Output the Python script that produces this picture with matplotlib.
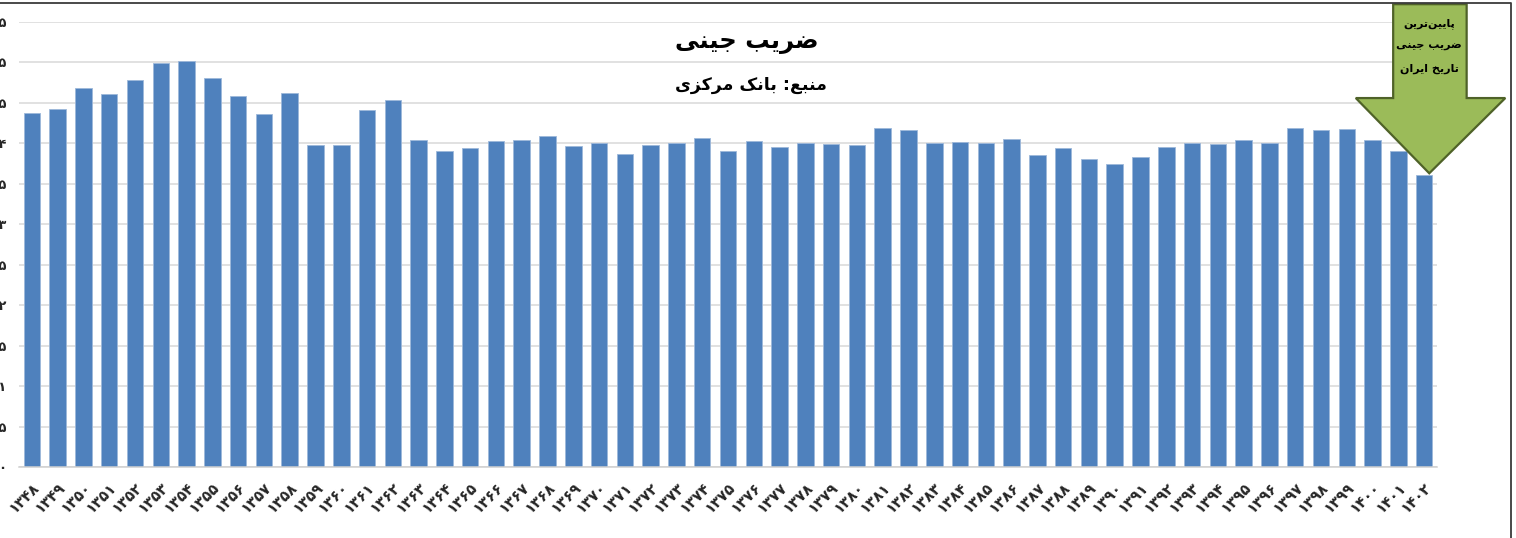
import matplotlib
matplotlib.use("Agg")
import matplotlib.pyplot as plt
from matplotlib.patches import Polygon
from matplotlib.lines import Line2D

# ---- data ----
years = list(range(1348, 1403))
gini = [0.437, 0.443, 0.468, 0.461, 0.478, 0.499, 0.502, 0.481, 0.459, 0.436,
        0.462, 0.398, 0.398, 0.441, 0.454, 0.404, 0.391, 0.394, 0.403, 0.404,
        0.409, 0.397, 0.400, 0.387, 0.398, 0.400, 0.407, 0.391, 0.403, 0.396,
        0.401, 0.399, 0.398, 0.419, 0.416, 0.400, 0.402, 0.400, 0.405, 0.386,
        0.394, 0.381, 0.375, 0.383, 0.395, 0.400, 0.399, 0.404, 0.400, 0.419,
        0.416, 0.418, 0.404, 0.391, 0.361]
yticks = [0, 0.05, 0.1, 0.15, 0.2, 0.25, 0.3, 0.35, 0.4, 0.45, 0.5, 0.55]

title = "ضریب جینی"
subtitle = "منبع: بانک مرکزی"
note = ["پایین‌ترین", "ضریب جینی", "تاریخ ایران"]

bar_color = "#4F81BD"
arrow_fill = "#9BBB59"
arrow_edge = "#4F6228"

# ---- tiny arabic/persian shaper (matplotlib has no shaping) ----
# isolated, final, initial, medial
FORMS = {
    'ا': ('\uFE8D', '\uFE8E', None, None),
    'ب': ('\uFE8F', '\uFE90', '\uFE91', '\uFE92'),
    'پ': ('\uFB56', '\uFB57', '\uFB58', '\uFB59'),
    'ت': ('\uFE95', '\uFE96', '\uFE97', '\uFE98'),
    'ج': ('\uFE9D', '\uFE9E', '\uFE9F', '\uFEA0'),
    'خ': ('\uFEA5', '\uFEA6', '\uFEA7', '\uFEA8'),
    'ر': ('\uFEAD', '\uFEAE', None, None),
    'ز': ('\uFEAF', '\uFEB0', None, None),
    'ض': ('\uFEBD', '\uFEBE', '\uFEBF', '\uFEC0'),
    'ع': ('\uFEC9', '\uFECA', '\uFECB', '\uFECC'),
    'ک': ('\uFB8E', '\uFB8F', '\uFB90', '\uFB91'),
    'م': ('\uFEE1', '\uFEE2', '\uFEE3', '\uFEE4'),
    'ن': ('\uFEE5', '\uFEE6', '\uFEE7', '\uFEE8'),
    'ی': ('\uFBFC', '\uFBFD', '\uFBFE', '\uFBFF'),
}


def shape(text):
    out = []
    for i, c in enumerate(text):
        if c not in FORMS:
            if c != '\u200c':
                out.append(c)
            continue
        prev = text[i - 1] if i > 0 else None
        nxt = text[i + 1] if i + 1 < len(text) else None
        join_prev = prev in FORMS and FORMS[prev][2] is not None
        join_next = nxt in FORMS and FORMS[c][2] is not None
        iso, fin, ini, med = FORMS[c]
        if join_prev and join_next:
            out.append(med)
        elif join_prev:
            out.append(fin)
        elif join_next:
            out.append(ini)
        else:
            out.append(iso)
    return ''.join(reversed(out))


def fa(s):
    return str(s).translate(str.maketrans('0123456789', '۰۱۲۳۴۵۶۷۸۹'))


plt.rcParams['font.family'] = ['DejaVu Sans']

W, H = 1516, 538
fig = plt.figure(figsize=(W / 100, H / 100), dpi=100)
ax = fig.add_axes([19 / W, (H - 467) / H, (1437 - 19) / W, (467 - 22) / H])

x = list(range(len(years)))
ax.bar(x, gini, width=0.64, color=bar_color, edgecolor="#9db8da", linewidth=0.6, zorder=2)

ax.set_xlim(-0.5, len(years) - 0.5)
ax.set_ylim(0, 0.55)
ax.set_yticks(yticks)
ax.set_yticklabels([fa(f"{v:g}") for v in yticks], fontsize=9.5,
                   color="#262626", fontweight="bold")
ax.set_xticks(x)
ax.set_xticklabels([fa(y) for y in years], rotation=45, ha="right",
                   rotation_mode="anchor", fontsize=10.5, color="#262626",
                   fontweight="bold")
ax.tick_params(axis="y", length=0, pad=9)
ax.tick_params(axis="x", length=0, pad=9)
ax.grid(axis="y", color="#d9d9d9", linewidth=1.1, zorder=0)
ax.set_axisbelow(True)
for s in ["top", "right", "left"]:
    ax.spines[s].set_visible(False)
ax.spines["bottom"].set_color("#d0d0d0")
ax.spines["bottom"].set_linewidth(1.1)

# titles
fig.text(747 / W, 1 - 42 / H, shape(title), ha="center", va="center",
         fontsize=17.5, fontweight="bold")
fig.text(751 / W, 1 - 85 / H, shape(subtitle), ha="center", va="center",
         fontsize=12.5, fontweight="bold")

# arrow pointing at the last (lowest) bar
tx = len(gini) - 1 + 0.2
ty = gini[-1] + 0.002
head_y = ty + 0.093
top_y = 0.572
arrow = Polygon([(tx - 1.4, top_y), (tx + 1.45, top_y), (tx + 1.45, head_y),
                 (tx + 2.95, head_y), (tx, ty), (tx - 2.85, head_y),
                 (tx - 1.4, head_y)],
                closed=True, facecolor=arrow_fill, edgecolor=arrow_edge,
                linewidth=1.6, zorder=5, clip_on=False)
ax.add_patch(arrow)
for k, line in enumerate(note):
    ax.text(tx, 0.548 - k * 0.028, shape(line), ha="center", va="center",
            fontsize=8, fontweight="bold", zorder=6, clip_on=False)

# chart area border (top and right)
fig.add_artist(Line2D([0, 1511 / W, 1511 / W], [1 - 2.5 / H, 1 - 2.5 / H, 0],
                      transform=fig.transFigure, color="#3a3a3a", linewidth=1.3))

fig.savefig("out.png", dpi=100)
